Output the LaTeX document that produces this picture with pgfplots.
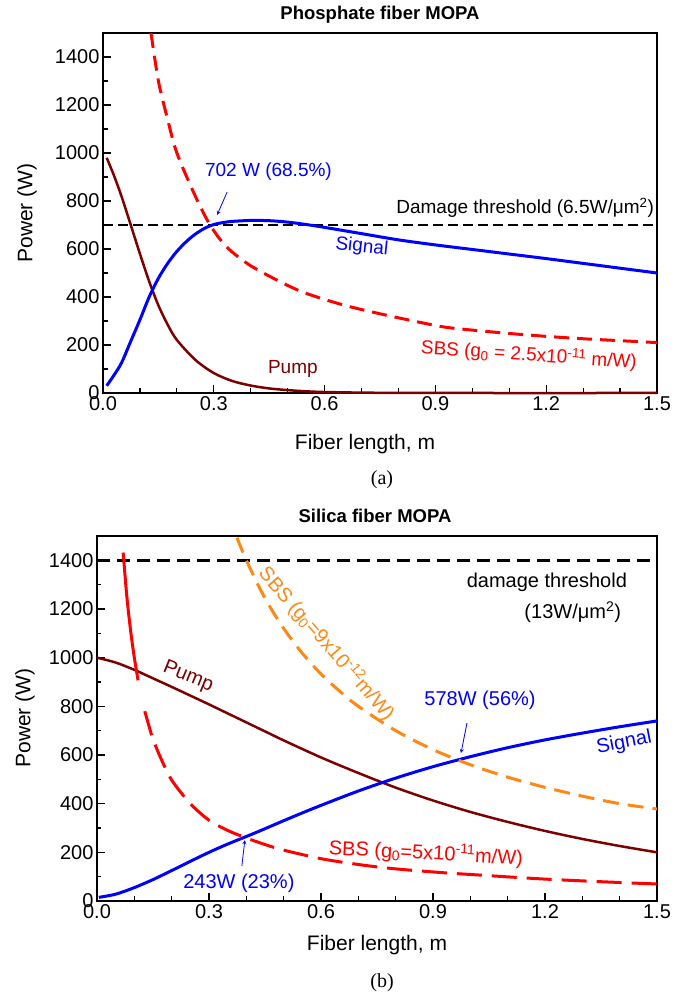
\documentclass[border=0pt]{standalone}
\usepackage{fontspec}
\setmainfont{Liberation Sans}
\newfontfamily\seriffont{Liberation Serif}
\usepackage{pgfplots}
\pgfplotsset{compat=1.18}
\definecolor{pumpc}{RGB}{125,0,0}
\definecolor{sigc}{RGB}{0,0,255}
\definecolor{sbsr}{RGB}{255,0,0}
\definecolor{sbso}{RGB}{255,136,20}
\newcommand{\fs}[1]{\fontsize{#1}{#1}\selectfont}
\pgfplotsset{myaxis/.style={
  scale only axis, clip=false,
  xmin=0, xmax=1.5, ymin=0, ymax=1500,
  xtick={0,0.3,0.6,0.9,1.2,1.5},
  minor xtick={0.1,0.2,0.4,0.5,0.7,0.8,1.0,1.1,1.3,1.4},
  ytick={0,200,400,600,800,1000,1200,1400},
  minor ytick={100,300,500,700,900,1100,1300},
  xtick pos=left, ytick pos=left, tick align=inside,
  major tick length=8pt, minor tick length=4.5pt,
  axis line style={line width=1.3pt},
  tick style={line width=1.2pt, black},
  ticklabel style={font=\fs{20}},
  /pgf/number format/assume math mode=true,
  xticklabel style={/pgf/number format/fixed, /pgf/number format/fixed zerofill, /pgf/number format/precision=1},
  yticklabel style={/pgf/number format/1000 sep={}},
}}
\begin{document}
\begin{tikzpicture}
\useasboundingbox (0,0) rectangle (688pt,994pt);
% ---------------- (a) ----------------
\begin{axis}[myaxis, at={(103pt,601pt)}, anchor=south west, width=554pt, height=360pt]
\addplot[black, line width=2.5pt, dash pattern=on 10pt off 5pt] coordinates {(0,700)(1.5,700)};
\addplot[pumpc, line width=2.5pt, smooth] coordinates {
(0.01,980)(0.03,905)(0.05,820)(0.07,725)(0.1,580)(0.125,465)(0.15,365)(0.175,285)(0.2,221)(0.25,138)(0.3,83)(0.35,50)(0.4,31)(0.45,19)(0.5,12)(0.55,7)(0.6,4)(0.7,1.5)(0.8,0.5)(1.0,0)(1.5,0)};
\addplot[sigc, line width=3pt, smooth] coordinates {
(0.01,30)(0.03,75)(0.05,125)(0.075,215)(0.1,305)(0.125,400)(0.15,478)(0.175,540)(0.2,590)(0.225,630)(0.25,662)(0.275,686)(0.3,702)(0.325,710)(0.35,715)(0.4,719)(0.45,718)(0.5,712)(0.55,702)(0.6,690)(0.7,664)(0.8,638)(0.9,617)(1.0,598)(1.1,579)(1.2,560)(1.3,540)(1.4,520)(1.5,500)};
\addplot[sbsr, line width=3pt, smooth, dash pattern=on 15pt off 8pt] coordinates {
(0.13,1500)(0.15,1300)(0.175,1140)(0.2,1000)(0.25,820)(0.29,700)(0.335,608)(0.4,530)(0.487,458)(0.55,415)(0.65,367)(0.75,330)(0.85,297)(0.923,275)(1.0,262)(1.1,248)(1.2,236)(1.3,226)(1.4,218)(1.5,210)};
\node[sigc, font=\fs{19}] at (axis cs:0.448,921) {702 W (68.5\%)};
\draw[sigc, line width=0.8pt, -stealth] (axis cs:0.336,837) -- (axis cs:0.309,742);
\node[black, font=\fs{19}, anchor=east, inner sep=0pt] at (axis cs:1.492,771) {Damage threshold (6.5W/μm\textsuperscript{2})};
\node[sigc, font=\fs{19}, rotate=-6] at (axis cs:0.701,608) {Signal};
\node[pumpc, font=\fs{19}] at (axis cs:0.514,100) {Pump};
\node[sbsr, font=\fs{19}, rotate=-4] at (axis cs:1.153,158) {SBS (g\textsubscript{0} = 2.5x10\textsuperscript{-11} m/W)};
\end{axis}
% ---------------- (b) ----------------
\begin{axis}[myaxis, at={(97pt,93pt)}, anchor=south west, width=560pt, height=365pt]
\addplot[black, line width=2.5pt, dash pattern=on 13pt off 7pt] coordinates {(0,1400)(1.5,1400)};
\addplot[pumpc, line width=2.5pt, smooth] coordinates {
(0,1000)(0.05,980)(0.1,950)(0.15,915)(0.2,880)(0.25,844)(0.3,808)(0.35,771)(0.4,734)(0.45,697)(0.5,660)(0.6,590)(0.7,526)(0.8,466)(0.9,413)(1.0,366)(1.1,325)(1.2,288)(1.3,255)(1.4,226)(1.5,200)};
\addplot[sigc, line width=3pt, smooth] coordinates {
(0.005,15)(0.05,28)(0.1,55)(0.15,88)(0.2,125)(0.25,163)(0.3,200)(0.35,234)(0.4,265)(0.45,297)(0.5,330)(0.55,362)(0.6,393)(0.7,452)(0.8,505)(0.9,552)(1.0,593)(1.1,630)(1.2,662)(1.3,690)(1.4,716)(1.5,740)};
\addplot[sbsr, line width=3pt, smooth] coordinates {
(0.07,1432)(0.08,1250)(0.09,1111)(0.1,1000)(0.11,907)};
\addplot[sbsr, line width=3pt, smooth, dash pattern=on 25pt off 10pt] coordinates {
(0.128,780)(0.14,715)(0.15,665)(0.17,590)(0.2,497)(0.25,400)(0.3,332)(0.35,290)(0.4,259)(0.45,232)(0.5,209)(0.6,174)(0.7,150)(0.8,132)(0.93,116)(1.0,109)(1.2,90)(1.4,76)(1.5,70)};
\addplot[sbso, line width=3pt, smooth, dash pattern=on 16pt off 9pt] coordinates {
(0.375,1493)(0.4,1400)(0.45,1244)(0.5,1120)(0.55,1018)(0.6,933)(0.65,862)(0.7,800)(0.8,700)(0.9,622)(1.0,560)(1.1,509)(1.2,467)(1.3,431)(1.4,400)(1.5,378)};
\node[black, font=\fs{20}, anchor=east, inner sep=0pt] at (axis cs:1.420,1310) {damage threshold};
\node[black, font=\fs{20}, anchor=east, inner sep=0pt] at (axis cs:1.404,1186) {(13W/μm\textsuperscript{2})};
\node[pumpc, font=\fs{20}, rotate=-22] at (axis cs:0.244,920) {Pump};
\node[sbso, font=\fs{20}, rotate=-49] at (axis cs:0.616,1059) {SBS (g\textsubscript{0}=9x10\textsuperscript{-12}m/W)};
\node[sigc, font=\fs{20}] at (axis cs:1.026,825) {578W (56\%)};
\draw[sigc, line width=0.8pt, -stealth] (axis cs:0.991,731) -- (axis cs:0.975,608);
\node[sigc, font=\fs{20}, rotate=11] at (axis cs:1.412,649) {Signal};
\node[sbsr, font=\fs{20}, rotate=-3] at (axis cs:0.881,197) {SBS (g\textsubscript{0}=5x10\textsuperscript{-11}m/W)};
\node[sigc, font=\fs{20}] at (axis cs:0.380,74) {243W (23\%)};
\draw[sigc, line width=0.8pt, -stealth] (axis cs:0.388,144) -- (axis cs:0.396,250);
\end{axis}
% ---------------- outer text ----------------
\node[font=\bfseries\fs{18.5}] at (380pt,979pt) {Phosphate fiber MOPA};
\node[font=\fs{21}] at (365pt,550pt) {Fiber length, m};
\node[font=\fs{21}, rotate=90] at (27pt,781pt) {Power (W)};
\node[font=\seriffont\fs{20}] at (382pt,514pt) {(a)};
\node[font=\bfseries\fs{18.5}] at (375pt,478pt) {Silica fiber MOPA};
\node[font=\fs{21}] at (377pt,49pt) {Fiber length, m};
\node[font=\fs{21}, rotate=90] at (25pt,276pt) {Power (W)};
\node[font=\seriffont\fs{20}] at (382pt,11pt) {(b)};
\end{tikzpicture}
\end{document}
